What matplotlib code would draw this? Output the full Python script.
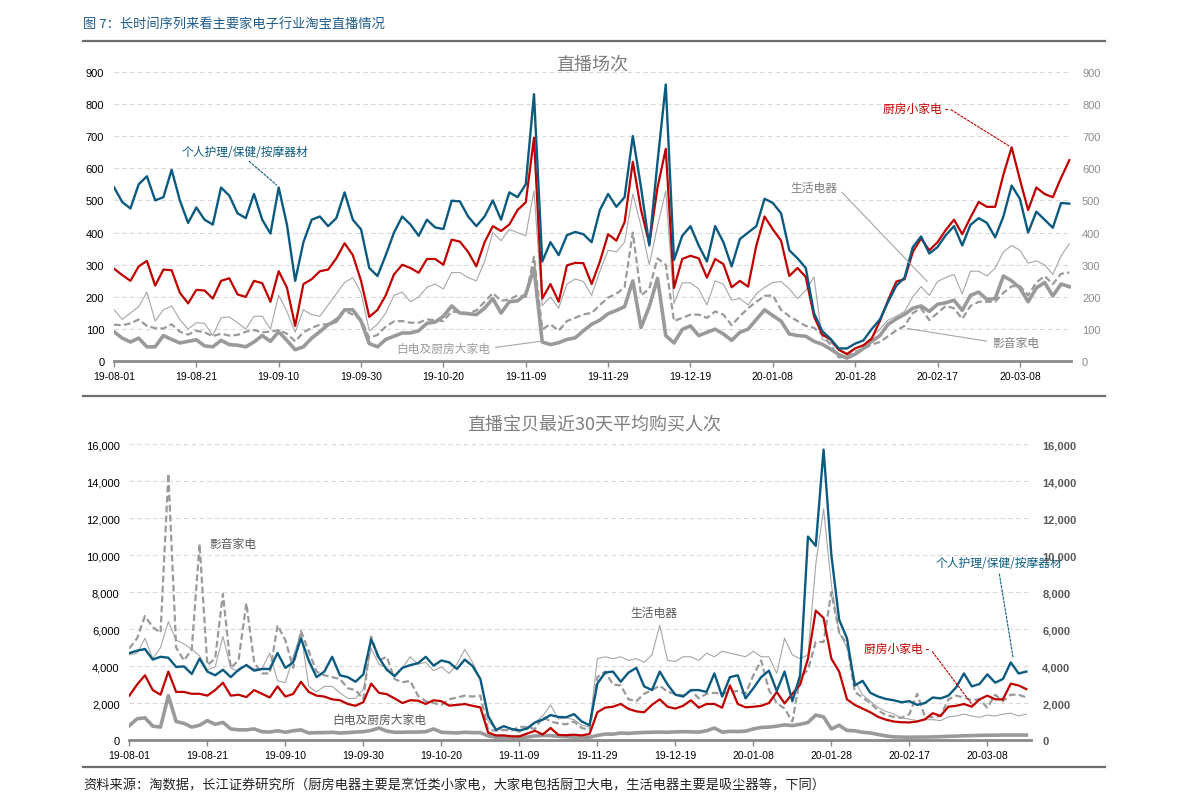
import numpy as np
import pandas as pd
import matplotlib
matplotlib.use('Agg')
import matplotlib.pyplot as plt
import matplotlib.dates as mdates
from matplotlib.lines import Line2D

# ---- 直播场次 (every 2 days from 2019-08-01) ----
top_personal = [541, 495, 475, 550, 575, 500, 510, 595, 500, 430,
                478, 440, 425, 540, 515, 460, 445, 520, 440, 397,
                540, 425, 250, 370, 440, 450, 420, 445, 525, 440,
                410, 290, 265, 330, 400, 450, 425, 390, 440, 416,
                411, 499, 497, 450, 420, 450, 500, 440, 525, 510,
                550, 830, 310, 370, 330, 392, 402, 395, 370, 470,
                520, 480, 510, 700, 540, 360, 620, 860, 315, 390,
                420, 360, 310, 420, 370, 295, 380, 400, 420, 505,
                492, 460, 345, 320, 290, 150, 94, 70, 40, 40,
                55, 65, 100, 130, 185, 235, 260, 355, 388, 335,
                355, 392, 420, 360, 424, 445, 430, 385, 450, 546,
                505, 400, 465, 440, 415, 492, 490]
top_kitchen = [288, 268, 250, 295, 312, 235, 285, 283, 213, 180,
               222, 220, 195, 250, 258, 208, 200, 250, 243, 185,
               280, 229, 110, 240, 255, 280, 285, 320, 367, 330,
               250, 138, 160, 205, 270, 300, 290, 275, 318, 318,
               300, 378, 372, 340, 295, 370, 420, 405, 425, 470,
               494, 695, 195, 240, 185, 298, 306, 305, 240, 310,
               395, 375, 432, 620, 470, 365, 540, 660, 228, 318,
               328, 320, 260, 318, 302, 230, 250, 232, 360, 450,
               410, 375, 265, 290, 262, 140, 83, 68, 36, 22,
               40, 50, 70, 125, 190, 248, 255, 340, 382, 345,
               370, 408, 440, 395, 447, 495, 480, 480, 580, 665,
               565, 470, 540, 520, 510, 570, 625]
top_living = [161, 130, 150, 170, 215, 125, 160, 172, 130, 100,
              120, 118, 80, 135, 138, 120, 100, 140, 140, 100,
              205, 155, 90, 160, 145, 140, 175, 210, 245, 260,
              213, 95, 115, 150, 205, 215, 185, 200, 230, 240,
              225, 276, 276, 260, 250, 310, 400, 375, 410, 400,
              390, 530, 173, 200, 165, 240, 256, 248, 205, 280,
              345, 340, 370, 520, 420, 300, 420, 530, 180, 244,
              244, 225, 175, 250, 240, 190, 195, 175, 210, 230,
              245, 248, 225, 195, 220, 262, 68, 58, 38, 26,
              42, 50, 75, 100, 128, 140, 155, 200, 232, 205,
              248, 260, 270, 210, 280, 280, 265, 290, 340, 360,
              345, 305, 312, 300, 270, 328, 365]
top_av = [114, 112, 118, 130, 110, 103, 102, 115, 92, 83,
          95, 90, 78, 86, 80, 82, 92, 97, 90, 92,
          97, 86, 62, 90, 104, 114, 115, 132, 158, 145,
          130, 73, 82, 108, 124, 125, 120, 120, 130, 128,
          125, 155, 152, 150, 158, 185, 212, 188, 192, 205,
          200, 325, 100, 115, 95, 125, 135, 146, 150, 175,
          198, 210, 230, 400, 205, 225, 320, 300, 125, 135,
          145, 145, 135, 155, 145, 112, 140, 165, 185, 203,
          205, 160, 140, 125, 110, 104, 83, 52, 12, 14,
          30, 38, 52, 60, 78, 96, 110, 150, 165, 128,
          150, 172, 165, 132, 172, 185, 185, 185, 213, 233,
          234, 205, 245, 265, 240, 272, 276]
top_large = [92, 72, 60, 72, 45, 45, 80, 68, 57, 62,
             67, 48, 45, 65, 52, 50, 45, 60, 80, 62,
             92, 65, 36, 45, 72, 92, 114, 125, 160, 160,
             125, 55, 45, 68, 78, 88, 88, 95, 118, 122,
             140, 172, 150, 148, 145, 165, 195, 150, 185, 188,
             208, 290, 60, 52, 58, 68, 73, 95, 115, 128,
             148, 158, 170, 250, 105, 170, 258, 80, 57, 99,
             110, 80, 90, 100, 85, 65, 90, 100, 130, 160,
             142, 125, 85, 80, 78, 62, 53, 38, 21, 10,
             22, 40, 62, 80, 115, 132, 146, 165, 172, 155,
             177, 182, 190, 158, 205, 215, 192, 195, 265, 250,
             228, 185, 228, 245, 203, 240, 232]

# ---- 直播宝贝最近30天平均购买人次 (every 2 days from 2019-08-01) ----
bot_personal = [4700, 4830, 4920, 4350, 4500, 4450, 3950, 3980, 3570, 4400,
                3700, 3500, 3800, 3400, 3800, 4050, 3750, 3840, 3840, 4700,
                3900, 4200, 5500, 4300, 3400, 3700, 4500, 3500, 3400, 3150,
                3550, 5450, 4450, 3800, 3450, 3900, 4050, 4150, 4500, 4020,
                4300, 4200, 3840, 4350, 4000, 3300, 1300, 550, 750, 600,
                520, 620, 950, 1100, 1350, 1250, 1230, 1400, 1000, 800,
                3050, 3650, 3700, 3150, 3650, 3900, 2900, 2700, 3700, 3000,
                2450, 2350, 2700, 2700, 2600, 3600, 2350, 3400, 3500, 2250,
                2800, 3400, 3750, 2650, 3700, 2100, 3500, 11000, 10500, 15700,
                10000, 6500, 5500, 2950, 3200, 2550, 2350, 2220, 2150, 2040,
                2100, 1900, 2000, 2300, 2250, 2400, 2850, 3600, 2900, 3030,
                3550, 3100, 3300, 4200, 3600, 3700]
bot_kitchen = [2400, 3000, 3500, 2700, 2450, 3700, 2600, 2600, 2500, 2500,
               2400, 2700, 3100, 2400, 2450, 2320, 2700, 2500, 2300, 2900,
               2350, 2490, 3150, 2600, 2400, 2350, 2200, 2150, 1950, 1850,
               2050, 3050, 2550, 2480, 2250, 2000, 2150, 2130, 1950, 2150,
               2100, 1860, 1900, 1945, 1850, 1765, 400, 250, 250, 200,
               200, 350, 500, 300, 650, 280, 260, 290, 250, 330,
               1500, 1750, 1800, 1950, 1680, 1550, 1500, 1900, 2200, 1800,
               1700, 1850, 2150, 1750, 1950, 1950, 1750, 2950, 1950, 1770,
               1800, 1850, 2000, 2600, 1980, 2500, 3000, 4400, 7000, 6600,
               4400, 3700, 2200, 1900, 1700, 1500, 1250, 1100, 1000, 960,
               950, 1000, 1120, 1450, 1300, 1800, 1850, 1950, 1800, 2200,
               2400, 2200, 2200, 3050, 2950, 2750]
bot_living = [4600, 4700, 5500, 4400, 5000, 6400, 5400, 5200, 4900, 4560,
              3800, 3950, 5600, 3900, 3700, 4100, 3850, 3850, 4700, 3200,
              3100, 4500, 5800, 2900, 2600, 2900, 2900, 2550, 2250, 2250,
              2760, 4950, 4100, 3900, 3500, 3900, 4500, 4100, 4200, 3750,
              3950, 3600, 4100, 4900, 4200, 3300, 1000, 600, 500, 600,
              400, 700, 950, 1300, 1900, 1135, 1200, 1100, 800, 700,
              4400, 4500, 4400, 4500, 4300, 4400, 4200, 4600, 6200, 4300,
              4250, 4500, 4500, 4300, 4700, 4500, 4800, 4700, 4600, 4500,
              4800, 4500, 4500, 3600, 5500, 4600, 4400, 4600, 9500, 12500,
              8400, 5800, 5000, 3200, 2450, 2100, 1750, 1550, 1400, 1200,
              1130, 1050, 1100, 1100, 1050, 1250, 1300, 1400, 1300, 1230,
              1350, 1300, 1400, 1450, 1300, 1400]
bot_av = [4950, 5500, 6700, 6100, 5800, 14400, 5000, 4300, 4900, 10600,
          4050, 4400, 7900, 3900, 4300, 7400, 4200, 3600, 3600, 6200,
          5400, 3900, 5900, 4800, 3700, 3500, 3400, 3300, 2800, 2700,
          2200, 5600, 4300, 4500, 3300, 3120, 3200, 2400, 2100, 2000,
          1900, 2200, 2300, 2400, 2350, 2400, 550, 500, 550, 500,
          720, 700, 600, 1250, 1000, 900, 850, 1000, 650, 550,
          3400, 3700, 3000, 2950, 2200, 2100, 2500, 2700, 2940, 2600,
          2500, 2400, 2700, 2250, 2500, 2550, 2500, 2600, 2650, 2500,
          3500, 4300, 2700, 2000, 1700, 1000, 3400, 3800, 5300, 5300,
          8000, 5800, 5200, 2600, 2300, 2000, 1600, 1350, 1250, 1200,
          1400, 2500, 1250, 1230, 1300, 2200, 2400, 2300, 2150, 2200,
          1750, 2450, 2100, 2450, 2450, 2300]
bot_large = [780, 1150, 1200, 750, 700, 2400, 1000, 900, 700, 800,
             1050, 850, 950, 600, 550, 550, 600, 450, 430, 500,
             420, 500, 550, 380, 400, 400, 420, 380, 400, 430,
             450, 520, 650, 480, 420, 420, 430, 430, 450, 600,
             420, 400, 380, 420, 400, 400, 220, 150, 140, 150,
             140, 160, 220, 250, 240, 200, 180, 150, 140, 150,
             250, 320, 320, 380, 360, 390, 410, 420, 430, 420,
             440, 450, 440, 430, 500, 650, 430, 470, 460, 480,
             600, 680, 700, 750, 820, 780, 850, 950, 1350, 1250,
             600, 800, 520, 500, 420, 380, 300, 220, 170, 160,
             150, 160, 160, 170, 180, 200, 210, 230, 240, 250,
             260, 260, 270, 270, 270, 270]

start = pd.Timestamp('2019-08-01')
top_dates = pd.date_range(start, periods=len(top_personal), freq='2D')
bot_dates = pd.date_range(start, periods=len(bot_personal), freq='2D')
tick_dates = pd.date_range(start, periods=12, freq='20D')
tick_labels = [t.strftime('%y-%m-%d') for t in tick_dates]

BLUE = '#0b5a80'
RED = '#c00000'
GRAY = '#9a9a9a'
CJK = ['Noto Sans CJK SC', 'DejaVu Sans']
plt.rcParams['font.family'] = ['Liberation Sans', 'Noto Sans CJK SC', 'DejaVu Sans']


def day(n):
    return mdates.date2num(start + pd.Timedelta(days=n))


def style_axis(ax, xmax_days, yticks, ylabels, right_color, right_weight):
    ax.set_xlim(day(0), day(xmax_days))
    ax.set_ylim(yticks[0], yticks[-1])
    ax.set_xticks(mdates.date2num(tick_dates))
    ax.set_xticklabels(tick_labels, fontsize=7.5, color='black')
    ax.set_yticks(yticks)
    ax.set_yticklabels(ylabels, fontsize=8, color='black')
    for s in ['left', 'right', 'top']:
        ax.spines[s].set_visible(False)
    ax.spines['bottom'].set_color('#8a8a8a')
    ax.spines['bottom'].set_linewidth(2)
    ax.tick_params(axis='x', length=4, width=1, color='#8a8a8a', pad=3)
    ax.tick_params(axis='y', length=0, pad=7)
    ax.yaxis.grid(True, linestyle=(0, (4, 3)), color='#d9d9d9', lw=0.8)
    ax.set_axisbelow(True)
    ax2 = ax.twinx()
    ax2.set_ylim(yticks[0], yticks[-1])
    ax2.set_yticks(yticks)
    ax2.set_yticklabels(ylabels, fontsize=8, color=right_color, fontweight=right_weight)
    ax2.tick_params(axis='y', length=0, pad=8)
    for s in ax2.spines.values():
        s.set_visible(False)


def draw_lines(ax, dates, large, av, living, kitchen, personal):
    x = mdates.date2num(dates)
    ax.plot(x, living, color='#a6a6a6', lw=0.8, zorder=3)
    ax.plot(x, av, color=GRAY, lw=1.6, linestyle=(0, (3, 1.5)), zorder=3)
    ax.plot(x, large, color=GRAY, lw=2.6, zorder=3, solid_joinstyle='round')
    ax.plot(x, kitchen, color=RED, lw=1.6, zorder=4)
    ax.plot(x, personal, color=BLUE, lw=1.7, zorder=5)


fig = plt.figure(figsize=(11.91, 8.12), dpi=100)

# ---------- top panel ----------
ax1 = fig.add_axes([0.0957, 0.5538, 0.8035, 0.3567])
draw_lines(ax1, top_dates, top_large, top_av, top_living, top_kitchen, top_personal)
yt = list(range(0, 901, 100))
style_axis(ax1, 232.4, yt, [str(v) for v in yt], '#8c8c8c', 'normal')
ax1.text(0.5, 1.027, '直播场次', transform=ax1.transAxes, ha='center', va='center',
         fontsize=13, color='#7f7f7f', family=CJK)

ax1.annotate('个人护理/保健/按摩器材', xy=(day(39.5), 548), xytext=(day(31.8), 653),
             ha='center', va='center', fontsize=8.5, color=BLUE, family=CJK,
             arrowprops=dict(arrowstyle='-', color=BLUE, lw=0.8, linestyle=(0, (2, 1.5)),
                             relpos=(0.5, 0), shrinkA=1, shrinkB=0), zorder=6)
ax1.annotate('厨房小家电 -', xy=(day(217.5), 668), xytext=(day(202.6), 787),
             ha='right', va='center', fontsize=8.5, color=RED, family=CJK,
             arrowprops=dict(arrowstyle='-', color=RED, lw=0.8, linestyle=(0, (2, 1.5)),
                             relpos=(1, 0.5), shrinkA=0, shrinkB=0), zorder=6)
ax1.annotate('生活电器', xy=(day(197.5), 248), xytext=(day(175.6), 541),
             ha='right', va='center', fontsize=8.5, color='#7f7f7f', family=CJK,
             arrowprops=dict(arrowstyle='-', color='#a6a6a6', lw=0.8,
                             relpos=(1, 0.5), shrinkA=2, shrinkB=0), zorder=6)
ax1.annotate('影音家电', xy=(day(192.6), 102), xytext=(day(213.3), 60),
             ha='left', va='center', fontsize=8.5, color='#7f7f7f', family=CJK,
             arrowprops=dict(arrowstyle='-', color='#a6a6a6', lw=0.8,
                             relpos=(0, 0.5), shrinkA=2, shrinkB=0), zorder=6)
ax1.annotate('白电及厨房大家电', xy=(day(103.5), 62), xytext=(day(91.3), 41),
             ha='right', va='center', fontsize=8.5, color='#9a9a9a', family=CJK,
             arrowprops=dict(arrowstyle='-', color='#a6a6a6', lw=0.8,
                             relpos=(1, 0.5), shrinkA=2, shrinkB=0), zorder=6)

# ---------- bottom panel ----------
ax3 = fig.add_axes([0.1086, 0.0874, 0.7571, 0.3645])
draw_lines(ax3, bot_dates, bot_large, bot_av, bot_living, bot_kitchen, bot_personal)
yt2 = list(range(0, 16001, 2000))
style_axis(ax3, 231.2, yt2, [f'{v:,}' for v in yt2], '#595959', 'bold')
ax3.text(0.515, 1.0676, '直播宝贝最近30天平均购买人次', transform=ax3.transAxes,
         ha='center', va='center', fontsize=13, color='#7f7f7f', family=CJK)

ax3.text(day(20.4), 10650, '影音家电', ha='left', va='center', fontsize=8.5,
         color='#595959', family=CJK, zorder=6)
ax3.text(day(52), 1135, '白电及厨房大家电', ha='left', va='center', fontsize=8.5,
         color='#595959', family=CJK, zorder=6)
ax3.text(day(128.4), 6920, '生活电器', ha='left', va='center', fontsize=8.5,
         color='#595959', family=CJK, zorder=6)
ax3.annotate('个人护理/保健/按摩器材', xy=(day(226.6), 4450), xytext=(day(206.6), 9620),
             ha='left', va='center', fontsize=8.5, color=BLUE, family=CJK,
             arrowprops=dict(arrowstyle='-', color=BLUE, lw=0.8, linestyle=(0, (2, 1.5)),
                             relpos=(0.5, 0), shrinkA=2, shrinkB=0), zorder=6)
ax3.annotate('厨房小家电 -', xy=(day(216.2), 1890), xytext=(day(188.4), 4970),
             ha='left', va='center', fontsize=8.5, color=RED, family=CJK,
             arrowprops=dict(arrowstyle='-', color=RED, lw=0.8, linestyle=(0, (2, 1.5)),
                             relpos=(1, 0.5), shrinkA=0, shrinkB=0), zorder=6)

# ---------- page decorations ----------
W, H = 1191.0, 812.0
fig.text(83 / W, 1 - 25 / H, '图 7：长时间序列来看主要家电子行业淘宝直播情况', fontsize=9.5,
         color='#1f5c8a', family=CJK, va='center', ha='left')
for yy in [42, 397, 768]:
    fig.add_artist(Line2D([83 / W, 1105 / W], [1 - yy / H, 1 - yy / H],
                          transform=fig.transFigure, color='#6e6e6e', lw=1.6))
fig.text(83 / W, 1 - 786 / H,
         '资料来源：淘数据，长江证券研究所（厨房电器主要是烹饪类小家电，大家电包括厨卫大电，生活电器主要是吸尘器等，下同）',
         fontsize=9.5, color='#222222', family=CJK, va='center', ha='left')

fig.savefig('out.png', dpi=100)
